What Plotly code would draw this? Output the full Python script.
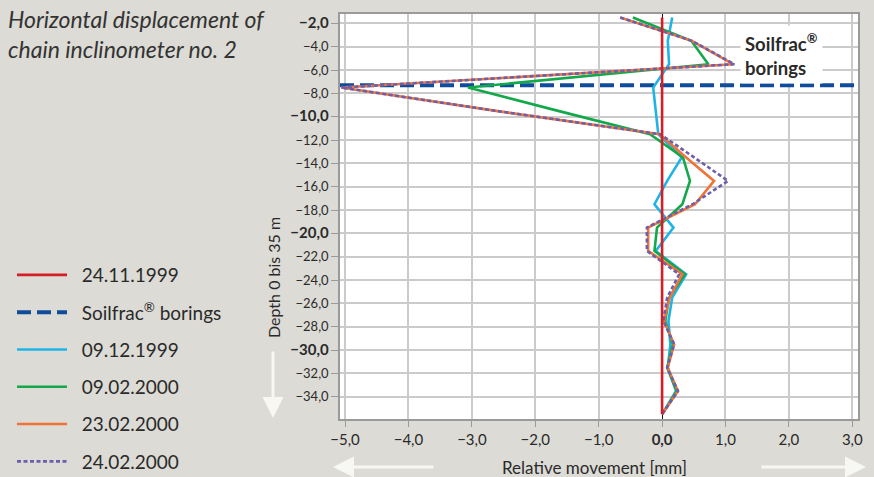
import plotly.graph_objects as go

# ---------------- data ----------------
depth = [-1.5, -3.5, -5.5, -7.5, -9.5, -11.5, -13.5, -15.5, -17.5, -19.5,
         -21.5, -23.5, -25.5, -27.5, -29.5, -31.5, -33.5, -35.5]

d_24_11_1999 = [0.0, 0.0, 0.0, 0.0, 0.0, 0.0, 0.01, 0.01, 0.01, 0.01,
                0.01, 0.01, 0.01, 0.01, 0.0, 0.01, 0.01, 0.0]
d_09_12_1999 = [0.16, 0.09, 0.11, -0.14, -0.10, -0.06, 0.31, 0.08, -0.12, 0.18,
                -0.10, 0.38, 0.16, 0.10, 0.13, 0.09, 0.22, 0.0]
d_09_02_2000 = [-0.46, 0.46, 0.73, -3.06, -1.64, -0.19, 0.33, 0.44, 0.32, -0.08,
                -0.12, 0.36, 0.11, 0.05, 0.17, 0.08, 0.23, 0.0]
d_23_02_2000 = [-0.66, 0.47, 1.12, -5.06, -2.62, -0.04, 0.38, 0.82, 0.52, -0.22,
                -0.22, 0.32, 0.12, 0.03, 0.19, 0.09, 0.25, 0.0]
d_24_02_2000 = [-0.66, 0.47, 1.14, -5.06, -2.62, -0.03, 0.51, 1.04, 0.48, -0.24,
                -0.24, 0.27, 0.08, 0.02, 0.19, 0.08, 0.25, 0.0]

soilfrac_depth = -7.3

x_range = [-5.08, 3.09]
y_range = [-35.9, -1.2]

x_tickvals = [-5, -4, -3, -2, -1, 0, 1, 2, 3]
x_ticktext = ["−5,0", "−4,0", "−3,0", "−2,0", "−1,0", "<b>0,0</b>", "1,0", "2,0", "3,0"]
y_tickvals = [-2, -4, -6, -8, -10, -12, -14, -16, -18, -20, -22, -24, -26, -28, -30, -32, -34]
y_major = [-2, -10, -20, -30]

FONT = "Lato, 'Open Sans', sans-serif"
BG = "#dcdbd5"
TXT = "#2a2a2a"
PAD = "\u00a0\u00a0"


def ylab(v):
    s = ("−%d,0" % abs(v))
    if v in y_major:
        return "<span style='font-size:15px'><b>%s</b></span>" % s
    return s


y_ticktext = [ylab(v) for v in y_tickvals]

fig = go.Figure()

series = [
    ("09.12.1999", d_09_12_1999, "#1fb4e6", None, 3),
    ("09.02.2000", d_09_02_2000, "#13a84a", None, 4),
    ("23.02.2000", d_23_02_2000, "#f0733a", None, 5),
    ("24.02.2000", d_24_02_2000, "#6c5fab", "4px,2.5px", 6),
]

# Soilfrac borings dashed horizontal line
fig.add_trace(go.Scatter(
    x=x_range, y=[soilfrac_depth, soilfrac_depth], mode="lines",
    name=PAD + "Soilfrac<sup>®</sup> borings",
    line=dict(color="#0f4c9b", width=4, dash="14px,6px"),
    legendrank=2, legendgroup="b", cliponaxis=False,
))

for name, vals, col, dash, rank in series:
    fig.add_trace(go.Scatter(
        x=vals, y=depth, mode="lines", name=PAD + name,
        line=dict(color=col, width=2.6, dash=dash),
        legendrank=rank, legendgroup=name,
    ))

fig.add_trace(go.Scatter(
    x=d_24_11_1999, y=depth, mode="lines", name=PAD + "24.11.1999",
    line=dict(color="#d41f27", width=2.6),
    legendrank=1, legendgroup="r",
))

L, R, T, B = 340, 16, 14, 58
W, H = 874, 477
pw, ph = W - L - R, H - T - B


def px2paper_x(px):
    return (px - L) / pw


def px2paper_y(py):
    return (H - B - py) / ph


annotations = [
    dict(text="<i>Horizontal displacement of<br>chain inclinometer no. 2</i>",
         x=px2paper_x(6), y=px2paper_y(3), xref="paper", yref="paper",
         xanchor="left", yanchor="top", align="left", showarrow=False,
         font=dict(family=FONT, size=23, color="#333333")),
    dict(text="<b>Soilfrac<sup>®</sup><br>borings</b>",
         x=px2paper_x(740), y=px2paper_y(54), xref="paper", yref="paper",
         xanchor="left", yanchor="middle", align="left", showarrow=False,
         bgcolor="white", borderpad=4,
         font=dict(family=FONT, size=18.5, color=TXT)),
    dict(text="Depth 0 bis 35 m", textangle=-90,
         x=px2paper_x(273), y=px2paper_y(278), xref="paper", yref="paper",
         xanchor="center", yanchor="middle", showarrow=False,
         font=dict(family=FONT, size=16, color=TXT)),
    dict(text="Relative movement [mm]",
         x=px2paper_x(594), y=px2paper_y(467), xref="paper", yref="paper",
         xanchor="center", yanchor="middle", showarrow=False,
         font=dict(family=FONT, size=17, color=TXT)),
    # arrows
    dict(text="", x=px2paper_x(333), y=px2paper_y(467), xref="paper", yref="paper",
         showarrow=True, ax=102, ay=0, arrowhead=2, arrowsize=1.4, arrowwidth=3,
         arrowcolor="#f7f7f3"),
    dict(text="", x=px2paper_x(866), y=px2paper_y(467), xref="paper", yref="paper",
         showarrow=True, ax=-106, ay=0, arrowhead=2, arrowsize=1.4, arrowwidth=3,
         arrowcolor="#f7f7f3"),
    dict(text="", x=px2paper_x(273), y=px2paper_y(418), xref="paper", yref="paper",
         showarrow=True, ax=0, ay=-68, arrowhead=2, arrowsize=1.4, arrowwidth=3,
         arrowcolor="#f7f7f3"),
]

fig.update_layout(
    width=W, height=H,
    margin=dict(l=L, r=R, t=T, b=B, autoexpand=False),
    paper_bgcolor=BG, plot_bgcolor="white",
    font=dict(family=FONT, color=TXT),
    showlegend=True,
    legend=dict(x=px2paper_x(12), y=px2paper_y(256), xanchor="left", yanchor="top",
                bgcolor="rgba(0,0,0,0)", font=dict(family=FONT, size=19, color=TXT),
                tracegroupgap=9.6, itemwidth=50),
    annotations=annotations,
)

fig.update_xaxes(
    range=x_range, tickvals=x_tickvals, ticktext=x_ticktext,
    showgrid=True, gridcolor="#cbcbcb", gridwidth=1.5,
    zeroline=True, zerolinecolor="#111111", zerolinewidth=1,
    showline=True, linecolor="#9a9a9a", linewidth=1.5, mirror=True,
    ticks="outside", ticklen=6, tickcolor="#9a9a9a",
    tickfont=dict(family=FONT, size=15, color=TXT),
)
fig.update_yaxes(
    range=y_range, tickvals=y_tickvals, ticktext=y_ticktext,
    showgrid=True, gridcolor="#cbcbcb", gridwidth=1.5, zeroline=False,
    showline=True, linecolor="#9a9a9a", linewidth=1.5, mirror=True,
    ticks="outside", ticklen=7, tickcolor="#9a9a9a",
    tickfont=dict(family=FONT, size=13, color=TXT),
)

fig.write_html("out.html", config={"displayModeBar": False},
               post_script="document.body.style.margin='0px';")
